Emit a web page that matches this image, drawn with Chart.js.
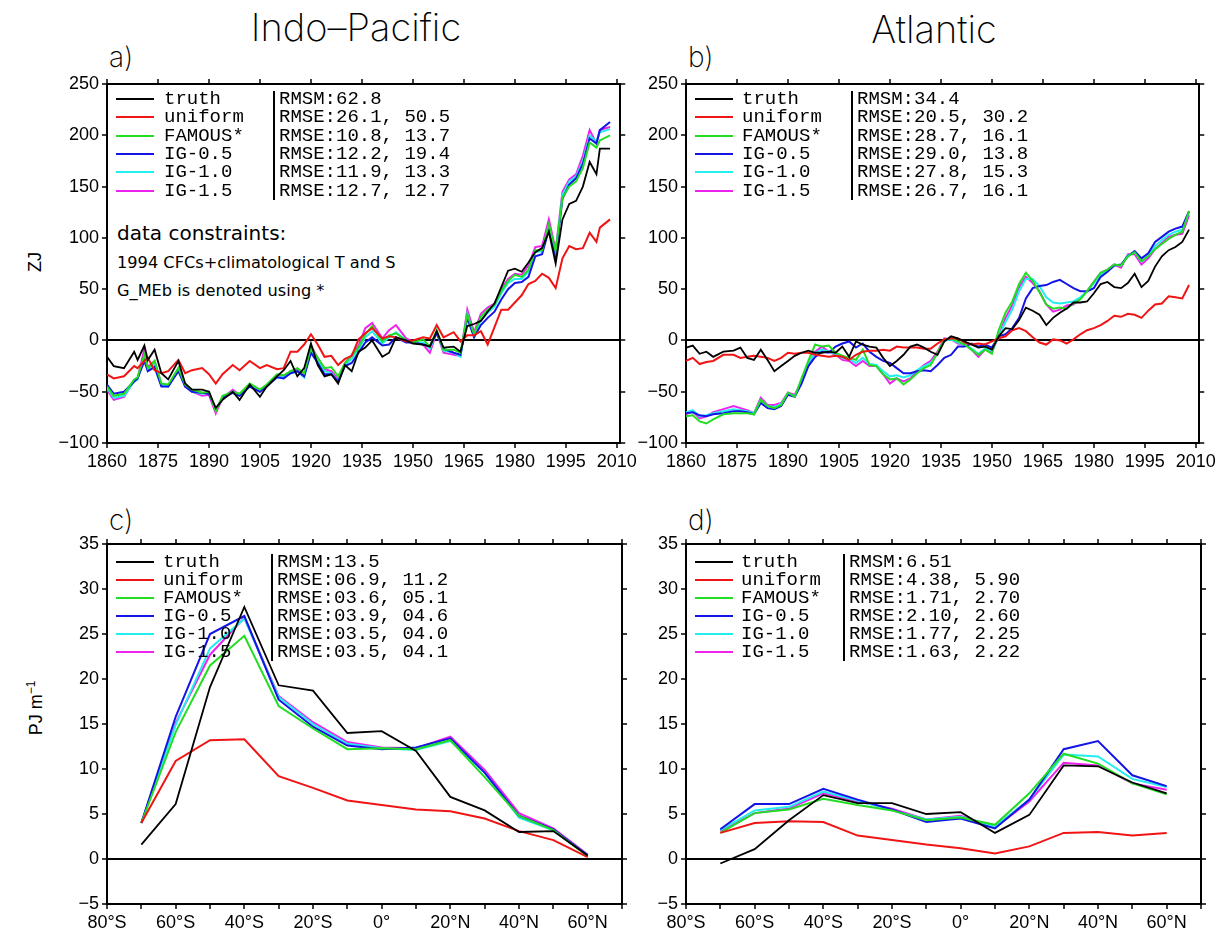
<!DOCTYPE html>
<html lang="en">
<head>
<meta charset="UTF-8">
<title>Indo-Pacific / Atlantic heat content</title>
<script src="https://cdn.jsdelivr.net/npm/chart.js"></script>
<style>
  body { margin: 0; background: #fff; width: 1230px; height: 941px; position: relative; overflow: hidden;
         font-family: "Liberation Sans", Arial, sans-serif; color: #000; }
  canvas { position: absolute; }
  .txt { position: absolute; white-space: nowrap; }
  .title { font-family: Inter, "DejaVu Sans", sans-serif; font-weight: 200; font-size: 38px; transform: translate(-50%, -50%); }
  .plabel { font-family: Inter, "DejaVu Sans", sans-serif; font-weight: 200; font-size: 28px; transform: translateY(-50%); }
  .ytitle { font-size: 18px; transform: translate(-50%, -50%) rotate(-90deg); }
  .note { font-family: "DejaVu Sans", sans-serif; transform: translateY(-50%); }
  .legend { position: absolute; font-family: "Liberation Mono", monospace; font-size: 19px; }
  .legend .row { position: absolute; left: 0; height: 18px; line-height: 18px; white-space: nowrap; }
  .legend .swatch { position: absolute; left: 0; top: 8px; width: 38px; height: 0; border-top: 2px solid; }
  .legend .sep { position: absolute; width: 0; border-left: 2px solid #000; }
</style>
</head>
<body>

<div class="txt title" style="left:356px; top:27px;">Indo–Pacific</div>
<div class="txt title" style="left:934px; top:29px;">Atlantic</div>
<div class="txt plabel" style="left:109px; top:57px;">a)</div>
<div class="txt plabel" style="left:688px; top:57px;">b)</div>
<div class="txt plabel" style="left:109px; top:520px;">c)</div>
<div class="txt plabel" style="left:688px; top:520px;">d)</div>
<div class="txt ytitle" style="left:35px; top:262px;">ZJ</div>
<div class="txt ytitle" style="left:35px; top:708px;">PJ m<sup style="font-size:12px">−1</sup></div>

<div class="txt note" style="left:117px; top:233px; font-size:20px;">data constraints:</div>
<div class="txt note" style="left:117px; top:262px; font-size:16.2px;">1994 CFCs+climatological T and S</div>
<div class="txt note" style="left:117px; top:290px; font-size:16.2px;">G_MEb is denoted using *</div>

<canvas id="chartA" width="640" height="450" style="left:0px; top:40px;"></canvas>
<canvas id="chartB" width="640" height="450" style="left:579px; top:40px;"></canvas>
<canvas id="chartC" width="640" height="441" style="left:0px; top:500px;"></canvas>
<canvas id="chartD" width="640" height="441" style="left:579px; top:500px;"></canvas>

<script>
// series names and colours
const seriesNames = ['truth', 'uniform', 'FAMOUS*', 'IG-0.5', 'IG-1.0', 'IG-1.5'];
const seriesColors = ['#000000', '#f01414', '#22dd22', '#1414e6', '#22eeee', '#ee22ee'];

// legend RMS texts
const rmsA = ['RMSM:62.8', 'RMSE:26.1, 50.5', 'RMSE:10.8, 13.7', 'RMSE:12.2, 19.4', 'RMSE:11.9, 13.3', 'RMSE:12.7, 12.7'];
const rmsB = ['RMSM:34.4', 'RMSE:20.5, 30.2', 'RMSE:28.7, 16.1', 'RMSE:29.0, 13.8', 'RMSE:27.8, 15.3', 'RMSE:26.7, 16.1'];
const rmsC = ['RMSM:13.5', 'RMSE:06.9, 11.2', 'RMSE:03.6, 05.1', 'RMSE:03.9, 04.6', 'RMSE:03.5, 04.0', 'RMSE:03.5, 04.1'];
const rmsD = ['RMSM:6.51', 'RMSE:4.38, 5.90', 'RMSE:1.71, 2.70', 'RMSE:2.10, 2.60', 'RMSE:1.77, 2.25', 'RMSE:1.63, 2.22'];

// tick values
const yearTicks = [1860, 1875, 1890, 1905, 1920, 1935, 1950, 1965, 1980, 1995, 2010];
const zjTicks = [-100, -50, 0, 50, 100, 150, 200, 250];
const latTicks = [-80, -70, -60, -50, -40, -30, -20, -10, 0, 10, 20, 30, 40, 50, 60, 70];
const pjTicks = [-5, 0, 5, 10, 15, 20, 25, 30, 35];

// a) Indo-Pacific, ZJ
const yearsA = [1860, 1862, 1865, 1868, 1869, 1871, 1872, 1874, 1876, 1878,
                1881, 1883, 1885, 1888, 1890, 1892, 1894, 1897, 1899, 1902,
                1905, 1907, 1910, 1912, 1914, 1916, 1918, 1920, 1922, 1924,
                1926, 1928, 1930, 1932, 1934, 1936, 1938, 1941, 1943, 1945,
                1948, 1950, 1953, 1955, 1957, 1959, 1962, 1964, 1966, 1968,
                1970, 1972, 1974, 1976, 1978, 1980, 1982, 1984, 1986, 1988,
                1990, 1992, 1994, 1996, 1998, 2000, 2002, 2004, 2005, 2008];
const truthA = [-16, -25, -27, -11, -19, -5, -19, -9, -32, -38,
                -20, -42, -48, -48, -50, -66, -58, -50, -58, -43,
                -55, -45, -35, -29, -20, -35, -27, -3, -24, -35,
                -33, -42, -24, -30, -11, -7, 0, -16, -12, 3,
                0, -3, -4, -6, 9, -7, -6, -11, 14, 16,
                19, 28, 36, 52, 68, 70, 67, 76, 86, 90,
                106, 75, 118, 133, 136, 150, 174, 162, 187, 187];
const uniformA = [-33, -37, -35, -25, -27, -20, -17, -29, -32, -30,
                  -19, -32, -29, -27, -33, -42, -33, -24, -29, -20,
                  -27, -24, -28, -27, -11, -11, -4, 6, -4, -16,
                  -15, -24, -18, -15, 1, 7, 12, 2, 4, 3,
                  -1, 0, 3, 2, 15, 3, 8, -1, 5, 5,
                  9, -4, 13, 30, 30, 37, 44, 55, 58, 65,
                  61, 51, 80, 92, 89, 90, 105, 96, 110, 118];
const famousA = [-45, -54, -52, -38, -36, -14, -27, -20, -42, -43,
                 -27, -43, -48, -51, -50, -69, -54, -50, -52, -42,
                 -48, -43, -33, -34, -30, -27, -32, -7, -17, -27,
                 -26, -35, -22, -15, -7, 6, 14, -1, 5, 7,
                 0, -2, 1, -6, 10, -9, -9, -12, 25, 6,
                 23, 30, 35, 48, 58, 64, 62, 69, 88, 88,
                 113, 87, 139, 150, 155, 168, 193, 188, 195, 200];
const ig05A = [-43, -52, -50, -40, -37, -20, -30, -26, -45, -45,
               -30, -45, -50, -51, -52, -67, -56, -51, -54, -45,
               -50, -45, -36, -37, -32, -30, -35, -12, -22, -33,
               -33, -40, -25, -22, -12, -2, 3, -5, -4, 3,
               -2, -2, -4, -5, 7, -8, -12, -14, 22, 3,
               15, 22, 28, 40, 50, 56, 57, 62, 82, 84,
               108, 82, 138, 152, 158, 172, 197, 192, 205, 213];
const ig10A = [-46, -56, -54, -40, -38, -15, -28, -23, -44, -45,
               -28, -44, -50, -52, -51, -68, -56, -50, -54, -44,
               -50, -44, -36, -36, -32, -30, -36, -10, -20, -30,
               -32, -40, -24, -18, -9, 3, 9, -3, 3, 8,
               0, -2, -2, -8, 8, -10, -12, -16, 26, 4,
               20, 27, 33, 46, 56, 60, 60, 67, 86, 87,
               112, 85, 142, 155, 160, 175, 200, 194, 203, 206];
const ig15A = [-48, -58, -55, -39, -37, -8, -26, -20, -43, -45,
               -27, -45, -50, -54, -53, -71, -56, -48, -53, -43,
               -49, -44, -34, -35, -30, -28, -35, -5, -17, -28,
               -30, -38, -22, -14, -5, 12, 17, 2, 10, 15,
               2, -1, -4, -12, 8, -12, -14, -15, 30, 8,
               26, 32, 36, 50, 60, 65, 64, 73, 91, 92,
               118, 88, 145, 157, 162, 180, 205, 192, 205, 208];

// b) Atlantic, ZJ
const yearsB = [1860, 1862, 1864, 1866, 1868, 1871, 1874, 1876, 1878,
                1880, 1882, 1884, 1886, 1888, 1890, 1892, 1894, 1896, 1898,
                1900, 1902, 1904, 1906, 1908, 1910, 1912, 1914, 1916, 1918,
                1920, 1922, 1924, 1926, 1928, 1930, 1932, 1934, 1936, 1938,
                1940, 1942, 1944, 1946, 1948, 1950, 1952, 1954, 1956, 1958,
                1960, 1962, 1964, 1966, 1968, 1970, 1972, 1974, 1976, 1978,
                1980, 1982, 1984, 1986, 1988, 1990, 1992, 1994, 1996, 1998,
                2000, 2002, 2004, 2006, 2008];
const truthB = [-7, -5, -13, -11, -16, -11, -10, -7, -17,
                -19, -9, -19, -30, -25, -20, -15, -12, -10, -12,
                -12, -11, -12, -6, -16, -1, -4, -6, -7, -17,
                -25, -20, -14, -6, -4, -7, -11, -14, -1, 4,
                2, -1, -4, -7, -6, -9, 4, 12, 11, 20,
                32, 29, 25, 15, 22, 27, 31, 37, 37, 38,
                46, 55, 57, 52, 51, 56, 65, 52, 58, 72,
                82, 88, 91, 96, 108];
const uniformB = [-20, -17, -23, -21, -20, -14, -14, -17, -16,
                  -15, -16, -17, -20, -17, -12, -13, -12, -12, -14,
                  -15, -16, -15, -16, -19, -14, -11, -10, -10, -9,
                  -10, -6, -7, -7, -7, -8, -8, -3, 1, 2,
                  2, -2, -4, -3, -4, -1, 2, 4, 10, 12,
                  9, 3, -2, -4, 1, 0, -3, 1, 6, 10,
                  12, 15, 19, 24, 23, 26, 25, 22, 29, 35,
                  36, 43, 42, 41, 54];
const famousB = [-74, -73, -79, -81, -77, -72, -71, -71, -71,
                 -72, -58, -64, -66, -63, -51, -55, -37, -20, -4,
                 -6, -5, -12, -15, -17, -19, -9, -24, -25, -33,
                 -38, -37, -43, -38, -32, -27, -24, -12, 1, 2,
                 -1, -4, -9, -14, -9, -13, 10, 27, 38, 55,
                 66, 58, 47, 35, 31, 32, 31, 36, 40, 48,
                 57, 66, 69, 74, 73, 82, 86, 77, 82, 89,
                 94, 99, 103, 106, 126];
const ig05B = [-71, -70, -73, -74, -72, -71, -69, -69, -70,
               -72, -61, -66, -67, -64, -53, -55, -42, -25, -16,
               -11, -12, -6, -3, -1, -7, -3, -11, -16, -20,
               -22, -27, -32, -32, -30, -29, -30, -24, -17, -14,
               -6, -6, -3, -6, -4, -7, 4, 6, 12, 22,
               41, 51, 53, 54, 57, 59, 55, 51, 48, 48,
               51, 62, 67, 73, 74, 82, 87, 80, 85, 96,
               101, 106, 109, 111, 126];
const ig10B = [-70, -68, -74, -73, -71, -69, -67, -68, -69,
               -71, -58, -64, -65, -62, -52, -54, -40, -22, -12,
               -9, -11, -13, -17, -18, -22, -17, -23, -24, -30,
               -35, -34, -36, -34, -29, -25, -22, -13, 0, 1,
               -2, -4, -8, -13, -8, -10, 4, 18, 30, 48,
               60, 60, 53, 42, 37, 36, 37, 38, 42, 48,
               56, 64, 68, 74, 73, 83, 86, 77, 83, 92,
               98, 103, 106, 108, 125];
const ig15B = [-72, -69, -76, -74, -70, -67, -64, -66, -68,
               -71, -56, -63, -63, -61, -51, -53, -40, -24, -11,
               -6, -11, -14, -19, -20, -25, -20, -25, -25, -33,
               -42, -37, -40, -37, -30, -24, -20, -11, 2, 1,
               -3, -4, -9, -16, -9, -11, 4, 22, 34, 52,
               62, 56, 48, 35, 28, 30, 34, 35, 41, 48,
               57, 66, 69, 74, 71, 84, 84, 74, 80, 89,
               95, 101, 103, 104, 122];

// c) and d): zonal profiles, PJ m-1
const lats = [-70, -60, -50, -40, -30, -20, -10, 0, 10, 20, 30, 40, 50, 60];
const truthC = [1.6, 6.1, 19.1, 28.0, 19.3, 18.7, 14.0, 14.2, 12.0, 6.9, 5.4, 3.0, 3.1, 0.4];
const uniformC = [4.0, 10.9, 13.2, 13.3, 9.2, 7.9, 6.5, 6.0, 5.5, 5.3, 4.5, 3.1, 2.1, 0.2];
const famousC = [4.0, 14.1, 21.5, 24.8, 17.0, 14.5, 12.2, 12.3, 12.2, 13.2, 9.1, 4.8, 3.2, 0.3];
const ig05C = [4.0, 15.8, 25.0, 27.0, 17.7, 14.7, 12.6, 12.2, 12.4, 13.4, 9.6, 4.8, 3.3, 0.4];
const ig10C = [4.0, 14.9, 23.4, 26.7, 18.0, 15.0, 12.8, 12.3, 12.1, 13.1, 9.6, 4.6, 3.2, 0.4];
const ig15C = [4.0, 15.1, 22.7, 26.8, 18.1, 15.2, 13.0, 12.4, 12.3, 13.6, 9.9, 5.1, 3.4, 0.5];

const truthD = [-0.5, 1.1, 4.3, 7.1, 6.2, 6.2, 5.0, 5.2, 2.9, 4.9, 10.4, 10.3, 8.5, 7.3];
const uniformD = [2.9, 4.0, 4.2, 4.1, 2.6, 2.1, 1.6, 1.2, 0.6, 1.4, 2.9, 3.0, 2.6, 2.9];
const famousD = [2.9, 5.1, 5.5, 6.7, 6.0, 5.4, 4.3, 4.6, 3.8, 7.3, 11.7, 10.6, 8.4, 7.2];
const ig05D = [3.3, 6.1, 6.1, 7.8, 6.6, 5.5, 4.1, 4.5, 3.4, 6.6, 12.2, 13.1, 9.3, 8.1];
const ig10D = [3.2, 5.4, 5.8, 7.5, 6.5, 5.4, 4.4, 4.7, 3.6, 6.6, 11.6, 11.4, 8.9, 8.0];
const ig15D = [3.1, 5.1, 5.6, 7.3, 6.4, 5.6, 4.4, 4.8, 3.5, 6.4, 10.7, 10.4, 8.4, 7.7];

// --- helpers ---
const minus = v => (v < 0 ? '\u2212' + (-v) : String(v));
const latLabel = v => {
    if (v === 0) return '0°';
    if (v % 20 !== 0) return '';
    return Math.abs(v) + '°' + (v < 0 ? 'S' : 'N');
};

function axis(pos, min, max, tickVals, size, labelFn) {
    const showLabels = !!labelFn;
    const isY = pos === 'left' || pos === 'right';
    return {
        type: 'linear',
        position: pos,
        min: min,
        max: max,
        afterBuildTicks: ax => { ax.ticks = tickVals.map(v => ({ value: v })); },
        afterFit: ax => { if (isY) ax.width = size; else ax.height = size; },
        ticks: {
            display: showLabels,
            autoSkip: false,
            maxRotation: 0,
            padding: 3,
            color: '#000',
            font: { family: '"Liberation Sans", Arial, sans-serif', size: 18 },
            callback: labelFn || (() => '')
        },
        grid: {
            // only the zero line of the left axis is drawn across the plot
            drawOnChartArea: pos === 'left',
            color: ctx => (pos === 'left' && ctx.tick && ctx.tick.value === 0) ? '#000' : 'rgba(0,0,0,0)',
            lineWidth: 2,
            tickColor: '#000',
            tickWidth: 1.5,
            tickLength: 5
        },
        border: { display: true, color: '#000', width: 2 }
    };
}

function makeChart(id, xs, series, xr, yr, bottomH) {
    const datasets = series.map((s, i) => ({
        label: seriesNames[i],
        data: xs.map((x, j) => ({ x: x, y: s[j] })),
        borderColor: seriesColors[i],
        borderWidth: i === 0 ? 1.8 : 2,
        pointRadius: 0,
        tension: 0,
        fill: false
    }));
    return new Chart(document.getElementById(id), {
        type: 'line',
        data: { datasets: datasets },
        options: {
            responsive: false,
            animation: false,
            events: [],
            layout: { padding: 0 },
            plugins: { legend: { display: false }, tooltip: { enabled: false } },
            scales: {
                x: axis('bottom', xr.min, xr.max, xr.ticks, bottomH, xr.label),
                xTop: axis('top', xr.min, xr.max, xr.ticks, 44, null),
                y: axis('left', yr.min, yr.max, yr.ticks, 107, minus),
                yRight: axis('right', yr.min, yr.max, yr.ticks, 18, null)
            }
        }
    });
}

function buildLegend(left, top, rowH, nameDx, sepDx, rms) {
    const box = document.createElement('div');
    box.className = 'legend';
    box.style.left = left + 'px';
    box.style.top = top + 'px';
    seriesNames.forEach((name, i) => {
        const row = document.createElement('div');
        row.className = 'row';
        row.style.top = (i * rowH) + 'px';
        row.innerHTML = `<span class="swatch" style="border-color:${seriesColors[i]}"></span>` +
            `<span style="position:absolute; left:${nameDx}px">${name}</span>` +
            `<span style="position:absolute; left:${sepDx + 6}px">${rms[i]}</span>`;
        box.appendChild(row);
    });
    const sep = document.createElement('div');
    sep.className = 'sep';
    sep.style.left = sepDx + 'px';
    sep.style.top = '1px';
    sep.style.height = (rowH * 6 - 1) + 'px';
    box.appendChild(sep);
    document.body.appendChild(box);
}

const yearAxis = { min: 1860, max: 2011, ticks: yearTicks, label: v => String(v) };
const latAxis = { min: -80, max: 70, ticks: latTicks, label: latLabel };
const zjAxis = { min: -100, max: 250, ticks: zjTicks };
const pjAxis = { min: -5, max: 35, ticks: pjTicks };

makeChart('chartA', yearsA, [truthA, uniformA, famousA, ig05A, ig10A, ig15A], yearAxis, zjAxis, 47);
makeChart('chartB', yearsB, [truthB, uniformB, famousB, ig05B, ig10B, ig15B], yearAxis, zjAxis, 47);
makeChart('chartC', lats, [truthC, uniformC, famousC, ig05C, ig10C, ig15C], latAxis, pjAxis, 37);
makeChart('chartD', lats, [truthD, uniformD, famousD, ig05D, ig10D, ig15D], latAxis, pjAxis, 37);

buildLegend(116, 90, 18.3, 48, 157, rmsA);
buildLegend(695, 90, 18.3, 47, 156, rmsB);
buildLegend(116, 553, 18, 47, 155, rmsC);
buildLegend(695, 553, 18, 46, 148, rmsD);
</script>
</body>
</html>
